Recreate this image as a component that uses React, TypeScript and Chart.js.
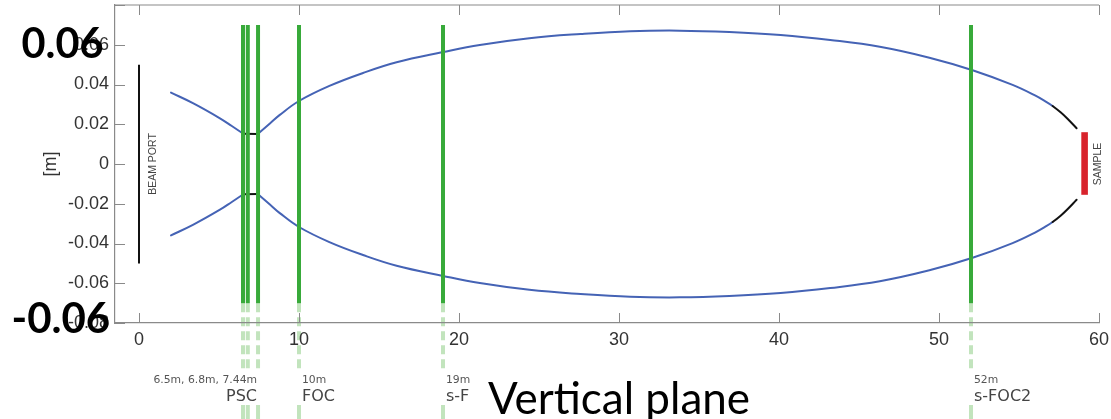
import React, { useEffect, useRef } from 'react';
import { Chart, registerables } from 'chart.js';

Chart.register(...registerables);

// ---- axis ticks ----
const X_TICKS = [0, 10, 20, 30, 40, 50, 60];
const Y_TICKS = [-0.08, -0.06, -0.04, -0.02, 0, 0.02, 0.04, 0.06, 0.08];

// ---- beam envelope (blue), before the PSC waist ----
const ENV1_X = [2.0, 3.4, 5.06, 5.8, 6.45];
const ENV1_UP = [0.0359, 0.0305, 0.023, 0.0191, 0.0156];
const ENV1_LO = [-0.0359, -0.0305, -0.023, -0.0191, -0.0156];

// ---- beam envelope after the PSC waist (blue up to TAIL_START, black after) ----
const ENV2_X = [7.44, 8.2, 8.8, 10, 11.9, 14, 16.1, 19, 21.3, 24.4, 27.6, 30.7, 33.8, 36.9, 40.1, 43.2, 46.3, 49.4, 52.1, 54.6, 56.0, 56.7, 57.1, 57.6, 58.0, 58.6];
const ENV2_UP = [0.0152, 0.0205, 0.0247, 0.0317, 0.0393, 0.0458, 0.0512, 0.0563, 0.0599, 0.0633, 0.0654, 0.0668, 0.0671, 0.0664, 0.0649, 0.0624, 0.059, 0.0535, 0.0472, 0.0398, 0.0345, 0.0313, 0.0292, 0.026, 0.023, 0.018];
const ENV2_LO = [-0.0152, -0.0205, -0.0247, -0.0317, -0.0393, -0.0458, -0.0512, -0.0563, -0.0599, -0.0633, -0.0654, -0.0668, -0.0671, -0.0664, -0.0649, -0.0624, -0.059, -0.0535, -0.0472, -0.0398, -0.0345, -0.0313, -0.0292, -0.026, -0.023, -0.018];
const TAIL_START = 57.1;

// ---- black waist inside the PSC ----
const WAIST_X = [6.45, 7.44];
const WAIST_UP = [0.0152, 0.0151];
const WAIST_LO = [-0.0152, -0.0151];

// ---- optical elements (green) ----
const ELEMENT_X = [6.5, 6.8, 7.44, 10, 19, 52];
const ELEMENT_Y = [-0.07, 0.07];

// ---- beam port & sample ----
const PORT_X = 0;
const PORT_Y = [-0.05, 0.05];
const SAMPLE_X = 59.1;
const SAMPLE_Y = [-0.0155, 0.016];

// ---- element labels below the axis ----
const LABEL_AT = [7.44, 10, 19, 52];
const LABEL_DIST = ['6.5m, 6.8m, 7.44m', '10m', '19m', '52m'];
const LABEL_NAME = ['PSC', 'FOC', 's-F', 's-FOC2'];
const LABEL_SIDE = ['right', 'left', 'left', 'left'];

const BLUE = '#4563b5';
const BLACK = '#111';
const GREEN = '#38aa3a';
const LIGHT_GREEN = '#c2e4bd';
const RED = '#d8232c';
const AXIS = '#8a8a8a';
const TICK_FONT = '"Liberation Sans", Arial, sans-serif';

const pts = (xs: number[], ys: number[]) => xs.map((x, i) => ({ x, y: ys[i] }));
const vline = (x: number, ys: number[]) => ys.map((y) => ({ x, y }));

const decor = {
  id: 'decor',
  beforeDraw(chart: any) {
    const { ctx, chartArea: a, scales } = chart;
    const xs = scales.x;
    const ys = scales.y;
    const H = chart.height;
    ctx.save();
    ctx.strokeStyle = LIGHT_GREEN;
    ctx.lineWidth = 4;
    ELEMENT_X.forEach((ex) => {
      const px = xs.getPixelForValue(ex);
      const y0 = ys.getPixelForValue(ELEMENT_Y[0]);
      ctx.setLineDash([9, 5]);
      ctx.beginPath();
      ctx.moveTo(px, y0);
      ctx.lineTo(px, a.bottom + 46);
      ctx.stroke();
      ctx.setLineDash([]);
      ctx.beginPath();
      ctx.moveTo(px, a.bottom + 82);
      ctx.lineTo(px, H);
      ctx.stroke();
    });
    ctx.restore();
  },
  afterDraw(chart: any) {
    const { ctx, chartArea: a, scales } = chart;
    const xs = scales.x;
    const ys = scales.y;
    ctx.save();
    // top frame line
    ctx.strokeStyle = AXIS;
    ctx.lineWidth = 1.2;
    ctx.beginPath();
    ctx.moveTo(a.left, a.top);
    ctx.lineTo(a.right, a.top);
    ctx.stroke();
    // inward ticks
    ctx.lineWidth = 1;
    ctx.beginPath();
    X_TICKS.forEach((v) => {
      const px = Math.round(xs.getPixelForValue(v)) + 0.5;
      ctx.moveTo(px, a.bottom);
      ctx.lineTo(px, a.bottom - 10);
      ctx.moveTo(px, a.top);
      ctx.lineTo(px, a.top + 10);
    });
    Y_TICKS.forEach((v) => {
      const py = Math.round(ys.getPixelForValue(v)) + 0.5;
      ctx.moveTo(a.left, py);
      ctx.lineTo(a.left + 10, py);
    });
    ctx.stroke();

    // rotated labels
    const rot = (text: string, cx: number, cy: number) => {
      ctx.save();
      ctx.translate(cx, cy);
      ctx.rotate(-Math.PI / 2);
      ctx.font = `10.5px ${TICK_FONT}`;
      ctx.fillStyle = '#444';
      ctx.textAlign = 'center';
      ctx.textBaseline = 'middle';
      ctx.fillText(text, 0, 0);
      ctx.restore();
    };
    rot('BEAM PORT', xs.getPixelForValue(PORT_X) + 14, ys.getPixelForValue(0));
    rot('SAMPLE', xs.getPixelForValue(SAMPLE_X) + 14, ys.getPixelForValue(0));

    // element labels
    LABEL_AT.forEach((v, i) => {
      const px = xs.getPixelForValue(v);
      const right = LABEL_SIDE[i] === 'right';
      const tx = right ? px - 1 : px + 3;
      ctx.textAlign = right ? 'right' : 'left';
      ctx.textBaseline = 'alphabetic';
      ctx.fillStyle = '#555';
      ctx.font = '10.8px "DejaVu Sans", sans-serif';
      ctx.fillText(LABEL_DIST[i], tx, a.bottom + 60);
      ctx.fillStyle = '#444';
      ctx.font = '16px "DejaVu Sans", sans-serif';
      ctx.fillText(LABEL_NAME[i], tx, a.bottom + 78);
    });

    // caption
    ctx.fillStyle = '#ffffff';
    ctx.fillRect(470, a.bottom + 36, 320, 100);
    ctx.fillStyle = '#000';
    ctx.textAlign = 'left';
    ctx.textBaseline = 'alphabetic';
    ctx.font = '44px Lato, "Open Sans", sans-serif';
    ctx.fillText('Vertical plane', 488, 414, 265);

    // bold overlay labels
    ctx.font = 'bold 42px Lato, "Open Sans", sans-serif';
    ctx.fillText('0.06', 21.5, 58, 82);
    ctx.fillText('-0.06', 11.5, 333, 99);
    ctx.restore();
  },
};

export default function App() {
  const ref = useRef<HTMLCanvasElement>(null);

  useEffect(() => {
    const canvas = ref.current;
    if (!canvas) return;

    const straight = { pointRadius: 0, fill: false, tension: 0, borderCapStyle: 'butt' };
    const curve = { pointRadius: 0, fill: false, tension: 0.4, borderCapStyle: 'round' };
    const tailColor = {
      borderColor: (c: any) => (c.p0.parsed.x >= TAIL_START - 1e-6 ? BLACK : BLUE),
    };

    const datasets: any[] = [];
    ELEMENT_X.forEach((ex) =>
      datasets.push({ ...straight, data: vline(ex, ELEMENT_Y), borderColor: GREEN, borderWidth: 4 })
    );
    datasets.push({ ...straight, data: vline(PORT_X, PORT_Y), borderColor: BLACK, borderWidth: 2 });
    datasets.push({ ...straight, data: vline(SAMPLE_X, SAMPLE_Y), borderColor: RED, borderWidth: 6.6 });
    datasets.push({ ...straight, data: pts(WAIST_X, WAIST_UP), borderColor: BLACK, borderWidth: 2 });
    datasets.push({ ...straight, data: pts(WAIST_X, WAIST_LO), borderColor: BLACK, borderWidth: 2 });
    datasets.push({ ...curve, data: pts(ENV1_X, ENV1_UP), borderColor: BLUE, borderWidth: 2 });
    datasets.push({ ...curve, data: pts(ENV1_X, ENV1_LO), borderColor: BLUE, borderWidth: 2 });
    datasets.push({ ...curve, data: pts(ENV2_X, ENV2_UP), borderColor: BLUE, borderWidth: 2, segment: tailColor });
    datasets.push({ ...curve, data: pts(ENV2_X, ENV2_LO), borderColor: BLUE, borderWidth: 2, segment: tailColor });

    const chart = new Chart(canvas, {
      type: 'line',
      data: { datasets },
      options: {
        animation: false,
        responsive: false,
        maintainAspectRatio: false,
        devicePixelRatio: 1,
        layout: { padding: { left: 0, right: 12, top: 5, bottom: 0 } },
        plugins: { legend: { display: false }, tooltip: { enabled: false } },
        scales: {
          x: {
            type: 'linear',
            min: -1.5,
            max: 60,
            afterBuildTicks: (s: any) => {
              s.ticks = X_TICKS.map((value) => ({ value }));
            },
            afterFit: (s: any) => {
              s.height = 96;
              s.paddingLeft = 0;
              s.paddingRight = 0;
            },
            grid: { display: false, drawTicks: false },
            border: { display: true, color: AXIS, width: 1.2 },
            ticks: {
              padding: 6,
              autoSkip: false,
              maxRotation: 0,
              minRotation: 0,
              color: '#333',
              font: { family: TICK_FONT, size: 18 },
              callback: (v: any) => String(v),
            },
          },
          y: {
            type: 'linear',
            min: -0.08,
            max: 0.08,
            afterBuildTicks: (s: any) => {
              s.ticks = Y_TICKS.map((value) => ({ value }));
            },
            afterFit: (s: any) => {
              s.width = 115;
              s.paddingTop = 0;
              s.paddingBottom = 0;
            },
            grid: { display: false, drawTicks: false },
            border: { display: true, color: AXIS, width: 1.2 },
            ticks: {
              padding: 6,
              color: '#333',
              font: { family: TICK_FONT, size: 18 },
              callback: (v: any) => {
                const n = Number(v);
                if (Math.abs(n - 0.08) < 1e-9) return '';
                if (Math.abs(n) < 1e-9) return '0';
                return n.toFixed(2);
              },
            },
            title: {
              display: true,
              text: '[m]',
              color: '#333',
              font: { family: TICK_FONT, size: 18 },
              padding: { top: 40, bottom: 0 },
            },
          },
        },
      } as any,
      plugins: [decor],
    });

    return () => chart.destroy();
  }, []);

  return (
    <div style={{ position: 'absolute', left: 0, top: 0, width: 1111, height: 419, background: '#fff' }}>
      <canvas ref={ref} width={1111} height={419} style={{ display: 'block' }} />
    </div>
  );
}
